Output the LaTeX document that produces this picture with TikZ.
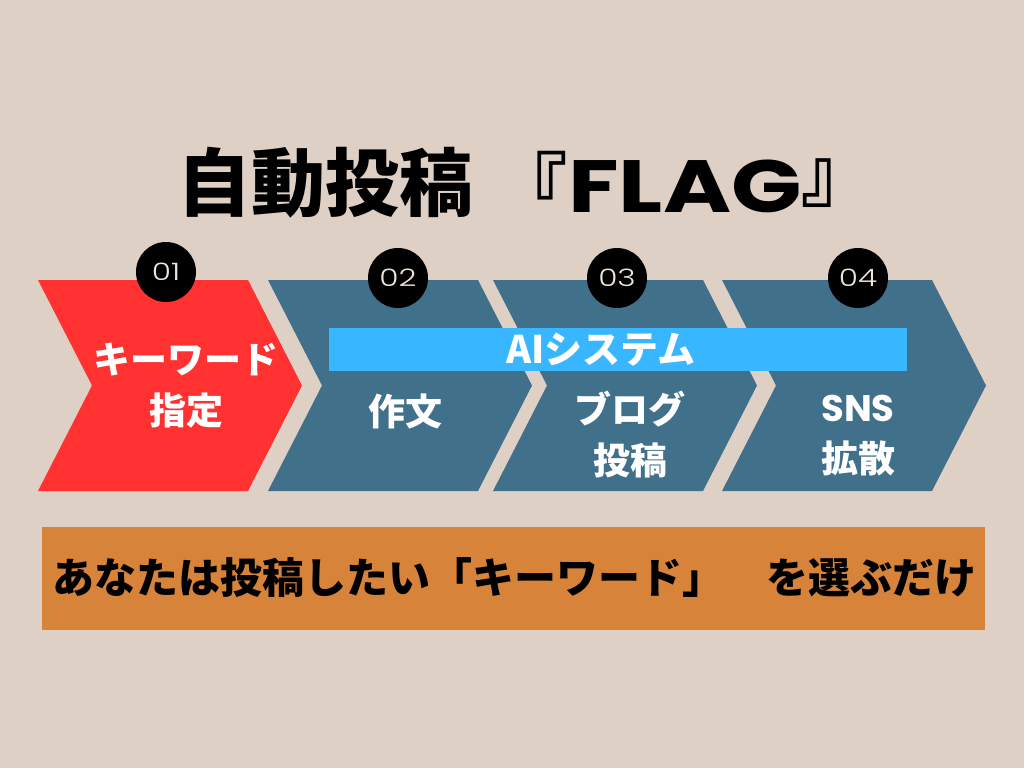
\documentclass[tikz,border=0pt]{standalone}
\usepackage{fontspec}
\newfontfamily\jp{Noto Sans CJK JP}
\newfontfamily\pop{Poppins}
\newfontfamily\popl{Poppins}[UprightFont={* Light}]
\definecolor{bg}{HTML}{DFD0C5}
\definecolor{redc}{HTML}{FF3131}
\definecolor{steel}{HTML}{41708A}
\definecolor{sky}{HTML}{38B6FF}
\definecolor{orangec}{HTML}{D8833A}
\definecolor{numc}{HTML}{EEE8DA}
\tikzset{
  numcirc/.style={circle, fill=black, minimum size=60pt, inner sep=0pt, text=numc, font=\popl\fontsize{24}{24}\selectfont},
  steptext/.style={text=white, align=center, inner sep=0pt, font=\jp\bfseries\fontsize{37}{51}\selectfont},
  titletext/.style={inner sep=0pt, font=\jp\bfseries\fontsize{74}{74}\selectfont},
}
\newcommand{\wnum}[1]{\scalebox{1.3}[1]{#1}}
\begin{document}
\begin{tikzpicture}[x=1pt,y=-1pt]
\fill[bg] (0,0) rectangle (1024,768);
\useasboundingbox (0,0) rectangle (1024,768);
% title
\node[titletext] (t1) at (325,183) {自動投稿};
\node[titletext, anchor=east] (t2) at (568,183) {『};
\node[inner sep=0pt, font=\pop\bfseries\fontsize{74}{74}\selectfont] (t3) at (685,186) {\scalebox{1.25}[1]{FLAG}};
\node[titletext, anchor=west] (t4) at (801,183) {』};
% chevrons
\foreach \L/\c in {38/redc, 268/steel, 493/steel, 722/steel}{
  \fill[\c] (\L,280) -- (\L+210,280) -- (\L+264,385.5) -- (\L+210,491) -- (\L,491) -- (\L+54,385.5) -- cycle;
}
% AI bar
\node[fill=sky, minimum width=578pt, minimum height=43pt, inner sep=0pt, anchor=north west] (bar) at (329,328) {};
\node[text=white, inner sep=0pt, font=\jp\bfseries\fontsize{38}{38}\selectfont] (ai) at (601,350) {AIシステム};
% circles
\node[numcirc] (c1) at (166,272) {\wnum{01}};
\node[numcirc] (c2) at (398,278) {\wnum{02}};
\node[numcirc] (c3) at (617,278) {\wnum{03}};
\node[numcirc] (c4) at (858,278) {\wnum{04}};
% step texts
\node[steptext] (s1) at (186,386) {キーワード\\指定};
\node[steptext] (s2) at (405,412) {作文};
\node[steptext] (s3) at (630,435) {ブログ\\投稿};
\node[steptext] (s4) at (858,436) {{\pop\bfseries SNS}\\拡散};
% bottom bar
\node[fill=orangec, minimum width=943pt, minimum height=103pt, inner sep=0pt, anchor=north west] (box) at (42,527) {};
\node[inner sep=0pt, font=\jp\bfseries\fontsize{42}{42}\selectfont] (msg) at (514,578) {あなたは投稿したい「キーワード」　を選ぶだけ};
\end{tikzpicture}
\end{document}
